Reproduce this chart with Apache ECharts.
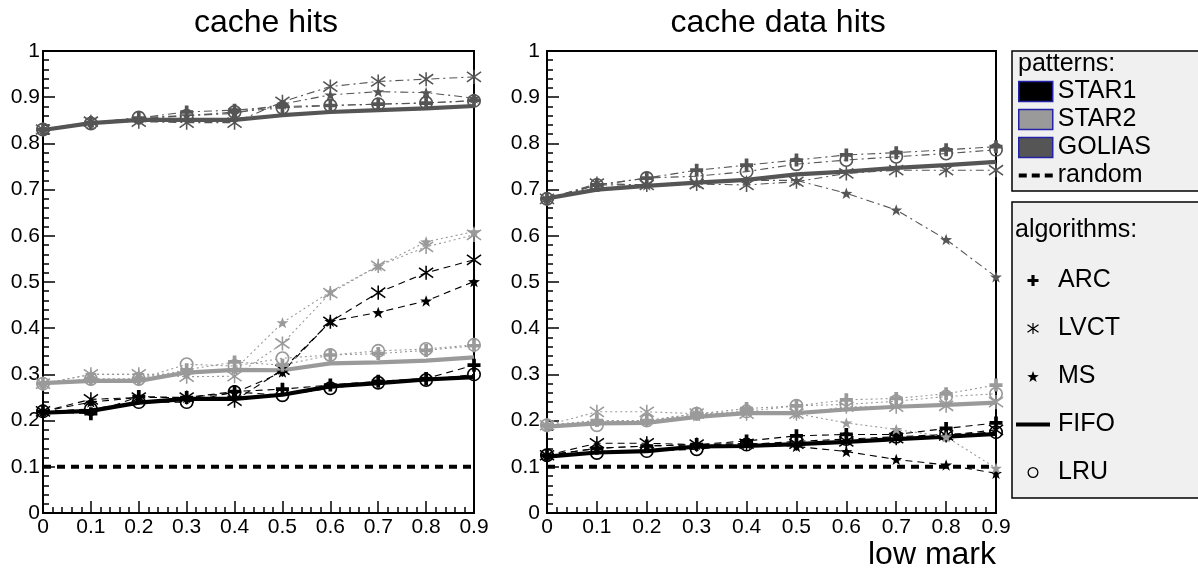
<!DOCTYPE html>
<html>
<head>
<meta charset="utf-8">
<title>cache hits</title>
<script src="https://cdn.jsdelivr.net/npm/echarts/dist/echarts.min.js"></script>
<style>
  html, body { margin: 0; padding: 0; background: #fff; }
  #chart { width: 1198px; height: 569px; }
</style>
</head>
<body>
<div id="chart"></div>
<script>
// x values (low mark)
const lowMark = [0, 0.1, 0.2, 0.3, 0.4, 0.5, 0.6, 0.7, 0.8, 0.9];
const randomLevel = 0.1;

// cache hits (left panel)
const hitsStar1Fifo = [0.217, 0.221, 0.239, 0.247, 0.247, 0.256, 0.274, 0.281, 0.289, 0.294];
const hitsStar1Arc  = [0.22, 0.215, 0.252, 0.25, 0.263, 0.268, 0.277, 0.285, 0.291, 0.32];
const hitsStar1Lru  = [0.22, 0.225, 0.24, 0.24, 0.262, 0.255, 0.27, 0.282, 0.288, 0.30];
const hitsStar1Lvct = [0.22, 0.246, 0.25, 0.25, 0.243, 0.31, 0.414, 0.477, 0.52, 0.548];
const hitsStar1Ms   = [0.22, 0.24, 0.25, 0.25, 0.26, 0.305, 0.415, 0.434, 0.459, 0.501];

const hitsStar2Fifo = [0.281, 0.286, 0.286, 0.304, 0.31, 0.309, 0.324, 0.326, 0.33, 0.337];
const hitsStar2Arc  = [0.28, 0.29, 0.29, 0.31, 0.327, 0.32, 0.342, 0.345, 0.352, 0.362];
const hitsStar2Lru  = [0.28, 0.29, 0.29, 0.322, 0.318, 0.335, 0.342, 0.351, 0.355, 0.364];
const hitsStar2Lvct = [0.28, 0.30, 0.30, 0.295, 0.296, 0.367, 0.476, 0.535, 0.576, 0.602];
const hitsStar2Ms   = [0.28, 0.30, 0.30, 0.30, 0.31, 0.412, 0.479, 0.535, 0.587, 0.609];

const hitsGoliasFifo = [0.829, 0.844, 0.851, 0.851, 0.851, 0.861, 0.868, 0.872, 0.876, 0.881];
const hitsGoliasArc  = [0.83, 0.845, 0.855, 0.868, 0.872, 0.88, 0.882, 0.885, 0.887, 0.893];
const hitsGoliasLru  = [0.83, 0.843, 0.856, 0.86, 0.868, 0.877, 0.882, 0.885, 0.888, 0.892];
const hitsGoliasLvct = [0.83, 0.847, 0.847, 0.845, 0.845, 0.89, 0.923, 0.934, 0.939, 0.944];
const hitsGoliasMs   = [0.83, 0.845, 0.853, 0.86, 0.865, 0.885, 0.905, 0.912, 0.91, 0.898];

// cache data hits (right panel)
const dataStar1Fifo = [0.122, 0.131, 0.134, 0.144, 0.145, 0.149, 0.154, 0.16, 0.165, 0.171];
const dataStar1Arc  = [0.125, 0.14, 0.145, 0.148, 0.156, 0.167, 0.17, 0.17, 0.183, 0.195];
const dataStar1Lru  = [0.125, 0.13, 0.134, 0.138, 0.148, 0.155, 0.16, 0.165, 0.17, 0.175];
const dataStar1Lvct = [0.125, 0.151, 0.151, 0.148, 0.15, 0.15, 0.155, 0.162, 0.168, 0.18];
const dataStar1Ms   = [0.125, 0.14, 0.145, 0.148, 0.15, 0.144, 0.133, 0.116, 0.104, 0.086];

const dataStar2Fifo = [0.187, 0.194, 0.195, 0.208, 0.216, 0.216, 0.224, 0.23, 0.234, 0.239];
const dataStar2Arc  = [0.19, 0.2, 0.2, 0.215, 0.226, 0.232, 0.245, 0.248, 0.258, 0.277];
const dataStar2Lru  = [0.19, 0.19, 0.2, 0.215, 0.22, 0.232, 0.235, 0.242, 0.252, 0.258];
const dataStar2Lvct = [0.19, 0.219, 0.219, 0.215, 0.215, 0.215, 0.23, 0.23, 0.232, 0.24];
const dataStar2Ms   = [0.19, 0.2, 0.2, 0.21, 0.22, 0.215, 0.195, 0.181, 0.165, 0.097];

const dataGoliasFifo = [0.681, 0.70, 0.708, 0.715, 0.721, 0.733, 0.739, 0.747, 0.753, 0.76];
const dataGoliasArc  = [0.68, 0.71, 0.725, 0.742, 0.753, 0.764, 0.775, 0.78, 0.786, 0.793];
const dataGoliasLru  = [0.68, 0.71, 0.725, 0.729, 0.739, 0.755, 0.764, 0.771, 0.778, 0.786];
const dataGoliasLvct = [0.68, 0.713, 0.71, 0.712, 0.71, 0.717, 0.735, 0.742, 0.742, 0.742];
const dataGoliasMs   = [0.68, 0.71, 0.71, 0.715, 0.72, 0.72, 0.692, 0.656, 0.592, 0.511];

const curves = [
  [0, 'STAR1', 'FIFO', hitsStar1Fifo], [0, 'STAR1', 'ARC', hitsStar1Arc], [0, 'STAR1', 'LRU', hitsStar1Lru],
  [0, 'STAR1', 'LVCT', hitsStar1Lvct], [0, 'STAR1', 'MS', hitsStar1Ms],
  [0, 'STAR2', 'FIFO', hitsStar2Fifo], [0, 'STAR2', 'ARC', hitsStar2Arc], [0, 'STAR2', 'LRU', hitsStar2Lru],
  [0, 'STAR2', 'LVCT', hitsStar2Lvct], [0, 'STAR2', 'MS', hitsStar2Ms],
  [0, 'GOLIAS', 'FIFO', hitsGoliasFifo], [0, 'GOLIAS', 'ARC', hitsGoliasArc], [0, 'GOLIAS', 'LRU', hitsGoliasLru],
  [0, 'GOLIAS', 'LVCT', hitsGoliasLvct], [0, 'GOLIAS', 'MS', hitsGoliasMs],
  [1, 'STAR1', 'FIFO', dataStar1Fifo], [1, 'STAR1', 'ARC', dataStar1Arc], [1, 'STAR1', 'LRU', dataStar1Lru],
  [1, 'STAR1', 'LVCT', dataStar1Lvct], [1, 'STAR1', 'MS', dataStar1Ms],
  [1, 'STAR2', 'FIFO', dataStar2Fifo], [1, 'STAR2', 'ARC', dataStar2Arc], [1, 'STAR2', 'LRU', dataStar2Lru],
  [1, 'STAR2', 'LVCT', dataStar2Lvct], [1, 'STAR2', 'MS', dataStar2Ms],
  [1, 'GOLIAS', 'FIFO', dataGoliasFifo], [1, 'GOLIAS', 'ARC', dataGoliasArc], [1, 'GOLIAS', 'LRU', dataGoliasLru],
  [1, 'GOLIAS', 'LVCT', dataGoliasLvct], [1, 'GOLIAS', 'MS', dataGoliasMs]
];

const FONT = '"Liberation Sans", Arial, sans-serif';

// marker shapes (ROOT-like)
const ARC_PATH = 'path://M-2,-7H2V-2H7V2H2V7H-2V2H-7V-2H-2Z';
const LVCT_PATH = 'path://M-1.1,-10L1.1,-10L1.1,10L-1.1,10Z' +
  'M-10.63,-6.1L-9.37,-7.9L10.63,6.1L9.37,7.9Z' +
  'M10.63,-6.1L-9.37,7.9L-10.63,6.1L9.37,-7.9Z';
const MS_PATH = 'path://M0,-10L2.35,-3.24L9.51,-3.09L3.8,1.24L5.88,8.09L0,4L-5.88,8.09L-3.8,1.24L-9.51,-3.09L-2.35,-3.24Z';
const LRU_PATH = 'path://M-6,0A6,6 0 1,0 6,0A6,6 0 1,0 -6,0Z M-4.6,0A4.6,4.6 0 1,1 4.6,0A4.6,4.6 0 1,1 -4.6,0Z';
const FIFO_ICON = 'path://M0,0H34V4H0Z';
const RANDOM_ICON = 'path://M0,0H8V4H0Z M13,0H21V4H13Z M26,0H34V4H26Z';

const patternStyle = {
  STAR1: { color: '#000000', dash: [7, 5] },
  STAR2: { color: '#9a9a9a', dash: [2, 3] },
  GOLIAS: { color: '#555555', dash: [8, 4, 2, 4] }
};
const algoStyle = {
  ARC: { symbol: ARC_PATH, size: 13 },
  LVCT: { symbol: LVCT_PATH, size: 15 },
  MS: { symbol: MS_PATH, size: 12 },
  FIFO: { symbol: 'none', size: 0 },
  LRU: { symbol: LRU_PATH, size: 14 }
};

const chart = echarts.init(document.getElementById('chart'));

function xAxisFor(gridIndex) {
  return {
    type: 'value', gridIndex: gridIndex, min: 0, max: 0.9, interval: 0.1,
    axisLine: { show: true, onZero: false, lineStyle: { color: '#000', width: 2 } },
    axisTick: { show: true, inside: true, length: 12, lineStyle: { color: '#000', width: 1.5 } },
    minorTick: { show: true, splitNumber: 5, length: 6, lineStyle: { color: '#000', width: 1.5 } },
    splitLine: { show: false },
    axisLabel: { color: '#000', fontSize: 21, fontFamily: FONT, margin: 4 }
  };
}
function yAxisFor(gridIndex, labelMargin) {
  return {
    type: 'value', gridIndex: gridIndex, min: 0, max: 1, interval: 0.1,
    axisLine: { show: true, onZero: false, lineStyle: { color: '#000', width: 2 } },
    axisTick: { show: true, inside: true, length: 12, lineStyle: { color: '#000', width: 1.5 } },
    minorTick: { show: true, splitNumber: 5, length: 6, lineStyle: { color: '#000', width: 1.5 } },
    splitLine: { show: false },
    axisLabel: { color: '#000', fontSize: 21, fontFamily: FONT, margin: labelMargin }
  };
}

const series = [];
// FIFO lines first, markers on top
const ordered = curves.filter(c => c[2] === 'FIFO').concat(curves.filter(c => c[2] !== 'FIFO'));
ordered.forEach(([panel, pattern, algo, values]) => {
  const p = patternStyle[pattern];
  const a = algoStyle[algo];
  const isFifo = algo === 'FIFO';
  series.push({
    name: pattern + ' ' + algo,
    type: 'line',
    xAxisIndex: panel, yAxisIndex: panel,
    data: lowMark.map((x, i) => [x, values[i]]),
    symbol: a.symbol, symbolSize: a.size, symbolKeepAspect: true,
    showSymbol: !isFifo, showAllSymbol: true,
    clip: false,
    itemStyle: { color: p.color, borderWidth: 0 },
    lineStyle: { color: p.color, width: isFifo ? 4.2 : 1.1, type: isFifo ? 'solid' : p.dash },
    z: isFifo ? 2 : 3,
    silent: true
  });
});
[0, 1].forEach(panel => {
  series.push({
    name: 'random line ' + panel,
    type: 'line', xAxisIndex: panel, yAxisIndex: panel,
    data: [[lowMark[0], randomLevel], [lowMark[lowMark.length - 1], randomLevel]],
    symbol: 'none', clip: false, silent: true,
    lineStyle: { color: '#000', width: 4, type: [8, 6] },
    z: 2
  });
});
// empty series used only as legend entries
['STAR1', 'STAR2', 'GOLIAS', 'random', 'ARC', 'LVCT', 'MS', 'FIFO', 'LRU'].forEach(name => {
  series.push({ name: name, type: 'line', xAxisIndex: 0, yAxisIndex: 0, data: [] });
});

const legendText = { color: '#000', fontSize: 25, fontFamily: FONT, lineHeight: 25 };

const option = {
  animation: false,
  textStyle: { fontFamily: FONT },
  title: [
    { text: 'cache hits', left: 266, top: 7, padding: 0, textAlign: 'center',
      textStyle: { color: '#000', fontSize: 32, fontWeight: 'normal', fontFamily: FONT } },
    { text: 'cache data hits', left: 778, top: 7, padding: 0, textAlign: 'center',
      textStyle: { color: '#000', fontSize: 32, fontWeight: 'normal', fontFamily: FONT } }
  ],
  grid: [
    { left: 43, top: 51, width: 431, height: 462, show: true, borderColor: '#000', borderWidth: 2,
      backgroundColor: 'transparent', containLabel: false, outerBoundsMode: 'none' },
    { left: 547, top: 51, width: 449, height: 462, show: true, borderColor: '#000', borderWidth: 2,
      backgroundColor: 'transparent', containLabel: false, outerBoundsMode: 'none' }
  ],
  xAxis: [xAxisFor(0), xAxisFor(1)],
  yAxis: [yAxisFor(0, 3), yAxisFor(1, 7)],
  legend: [
    {
      orient: 'vertical', left: 1018, top: 79, padding: 0, itemGap: 3,
      itemWidth: 34, itemHeight: 20, selectedMode: false, z: 5,
      textStyle: legendText,
      data: [
        { name: 'STAR1', icon: 'rect', itemStyle: { color: '#000000', borderColor: '#2323a8', borderWidth: 1.5 } },
        { name: 'STAR2', icon: 'rect', itemStyle: { color: '#9a9a9a', borderColor: '#2323a8', borderWidth: 1.5 } },
        { name: 'GOLIAS', icon: 'rect', itemStyle: { color: '#555555', borderColor: '#2323a8', borderWidth: 1.5 } },
        { name: 'random', icon: RANDOM_ICON, itemStyle: { color: '#000', borderWidth: 0 } }
      ]
    },
    {
      orient: 'vertical', left: 1016, top: 268, padding: 0, itemGap: 23,
      itemWidth: 34, itemHeight: 11, selectedMode: false, z: 5,
      textStyle: Object.assign({ padding: [0, 0, 0, 3] }, legendText),
      data: [
        { name: 'ARC', icon: ARC_PATH, itemStyle: { color: '#000', borderWidth: 0 } },
        { name: 'LVCT', icon: LVCT_PATH, itemStyle: { color: '#000', borderWidth: 0 } },
        { name: 'MS', icon: MS_PATH, itemStyle: { color: '#000', borderWidth: 0 } },
        { name: 'FIFO', icon: FIFO_ICON, itemStyle: { color: '#000', borderWidth: 0 } },
        { name: 'LRU', icon: LRU_PATH, itemStyle: { color: '#000', borderWidth: 0 } }
      ]
    }
  ],
  graphic: [
    { type: 'rect', z: 0, shape: { x: 1012, y: 51, width: 200, height: 140 },
      style: { fill: '#f0f0f0', stroke: '#000', lineWidth: 1.5 } },
    { type: 'rect', z: 0, shape: { x: 1012, y: 202, width: 200, height: 296 },
      style: { fill: '#f0f0f0', stroke: '#000', lineWidth: 1.5 } },
    { type: 'text', z: 1, x: 1018, y: 64,
      style: { text: 'patterns:', fill: '#000', font: '25px ' + FONT, align: 'left', verticalAlign: 'middle' } },
    { type: 'text', z: 1, x: 1015, y: 230,
      style: { text: 'algorithms:', fill: '#000', font: '25px ' + FONT, align: 'left', verticalAlign: 'middle' } },
    { type: 'text', z: 1, x: 996, y: 555,
      style: { text: 'low mark', fill: '#000', font: '32px ' + FONT, align: 'right', verticalAlign: 'middle' } }
  ],
  series: series
};

chart.setOption(option);
</script>
</body>
</html>
